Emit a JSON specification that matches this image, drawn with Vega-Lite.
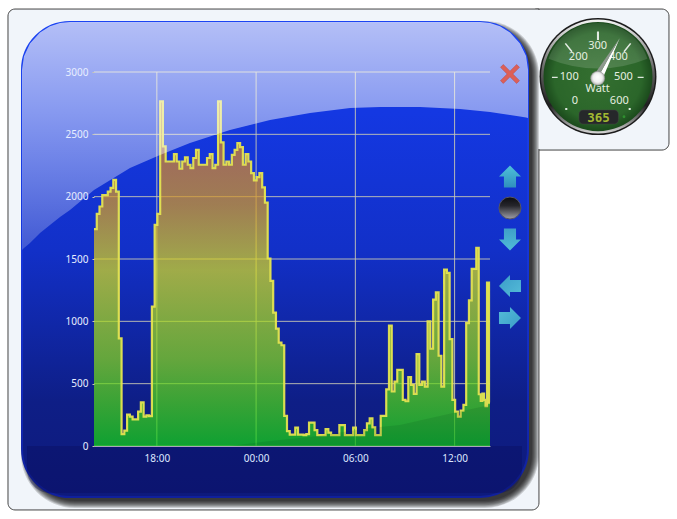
{
"$schema":"https://vega.github.io/schema/vega-lite/v6.json",
"width":396,"height":374,
"autosize":"none",
"padding":{"left":94,"top":72,"right":187,"bottom":73},
"background":"#ffffff",
"config":{"view":{"stroke":null},"font":"Noto Sans"},
"data":{"values":[{}]},
"resolve":{"axis":{"x":"independent","y":"independent"}},
"datasets":{
"power":[
{"h":14.2,"w":1740},{"h":14.367,"w":1862},{"h":14.533,"w":1921},{"h":14.7,"w":2012},{"h":14.867,"w":2012},{"h":15.033,"w":2040},
{"h":15.2,"w":2071},{"h":15.367,"w":2135},{"h":15.533,"w":2040},{"h":15.7,"w":864},{"h":15.867,"w":96},{"h":16.033,"w":123},
{"h":16.2,"w":251},{"h":16.367,"w":235},{"h":16.533,"w":214},{"h":16.7,"w":214},{"h":16.867,"w":275},{"h":17.033,"w":350},
{"h":17.2,"w":235},{"h":17.367,"w":246},{"h":17.533,"w":240},{"h":17.7,"w":1118},{"h":17.867,"w":1774},{"h":18.033,"w":1862},
{"h":18.2,"w":2764},{"h":18.367,"w":2403},{"h":18.533,"w":2282},{"h":18.7,"w":2282},{"h":18.867,"w":2282},{"h":19.033,"w":2341},
{"h":19.2,"w":2282},{"h":19.367,"w":2224},{"h":19.533,"w":2282},{"h":19.7,"w":2315},{"h":19.867,"w":2256},{"h":20.033,"w":2229},
{"h":20.2,"w":2310},{"h":20.367,"w":2376},{"h":20.533,"w":2256},{"h":20.7,"w":2256},{"h":20.867,"w":2256},{"h":21.033,"w":2310},
{"h":21.2,"w":2341},{"h":21.367,"w":2229},{"h":21.533,"w":2256},{"h":21.7,"w":2764},{"h":21.867,"w":2435},{"h":22.033,"w":2256},
{"h":22.2,"w":2282},{"h":22.367,"w":2256},{"h":22.533,"w":2336},{"h":22.7,"w":2376},{"h":22.867,"w":2430},{"h":23.033,"w":2398},
{"h":23.2,"w":2256},{"h":23.367,"w":2341},{"h":23.533,"w":2282},{"h":23.7,"w":2189},{"h":23.867,"w":2130},{"h":24.033,"w":2157},
{"h":24.2,"w":2189},{"h":24.367,"w":2074},{"h":24.533,"w":1953},{"h":24.7,"w":1504},{"h":24.867,"w":1325},{"h":25.033,"w":1070},
{"h":25.2,"w":942},{"h":25.367,"w":830},{"h":25.533,"w":808},{"h":25.7,"w":241},{"h":25.867,"w":120},{"h":26.033,"w":91},
{"h":26.2,"w":91},{"h":26.367,"w":147},{"h":26.533,"w":91},{"h":26.7,"w":91},{"h":26.867,"w":88},{"h":27.033,"w":96},
{"h":27.2,"w":187},{"h":27.367,"w":187},{"h":27.533,"w":128},{"h":27.7,"w":88},{"h":27.867,"w":88},{"h":28.033,"w":88},
{"h":28.2,"w":136},{"h":28.367,"w":107},{"h":28.533,"w":88},{"h":28.7,"w":88},{"h":28.867,"w":88},{"h":29.033,"w":168},
{"h":29.2,"w":168},{"h":29.367,"w":88},{"h":29.533,"w":88},{"h":29.7,"w":88},{"h":29.867,"w":147},{"h":30.033,"w":88},
{"h":30.2,"w":88},{"h":30.367,"w":88},{"h":30.533,"w":128},{"h":30.7,"w":182},{"h":30.867,"w":222},{"h":31.033,"w":150},
{"h":31.2,"w":88},{"h":31.367,"w":88},{"h":31.533,"w":241},{"h":31.7,"w":241},{"h":31.867,"w":455},{"h":32.033,"w":965},
{"h":32.2,"w":437},{"h":32.367,"w":517},{"h":32.533,"w":611},{"h":32.7,"w":611},{"h":32.867,"w":370},{"h":33.033,"w":359},
{"h":33.2,"w":552},{"h":33.367,"w":490},{"h":33.533,"w":418},{"h":33.7,"w":737},{"h":33.867,"w":490},{"h":34.033,"w":517},
{"h":34.2,"w":477},{"h":34.367,"w":1000},{"h":34.533,"w":780},{"h":34.7,"w":1174},{"h":34.867,"w":1233},{"h":35.033,"w":724},
{"h":35.2,"w":477},{"h":35.367,"w":1415},{"h":35.533,"w":1388},{"h":35.7,"w":858},{"h":35.867,"w":370},{"h":36.033,"w":276},
{"h":36.2,"w":236},{"h":36.367,"w":284},{"h":36.533,"w":330},{"h":36.7,"w":986},{"h":36.867,"w":1168},{"h":37.033,"w":1420},
{"h":37.31,"w":1590},{"h":37.46,"w":415},{"h":37.58,"w":361},{"h":37.68,"w":420},{"h":37.78,"w":370},{"h":37.87,"w":320},
{"h":37.96,"w":1310},{"h":38.08,"w":348},{"h":38.14,"w":348}
],
"gloss":[
{"h":9.847,"lo":1572,"hi":3016},{"h":9.968,"lo":1588,"hi":3126},{"h":10.331,"lo":1628,"hi":3228},{"h":10.936,"lo":1708,"hi":3317},
{"h":11.54,"lo":1773,"hi":3366},{"h":12.145,"lo":1837,"hi":3393},{"h":12.749,"lo":1893,"hi":3401},{"h":14.2,"lo":2053,"hi":3401},
{"h":16.376,"lo":2230,"hi":3401},{"h":18.19,"lo":2334,"hi":3401},{"h":20.0,"lo":2430,"hi":3401},{"h":22.42,"lo":2535,"hi":3401},
{"h":24.84,"lo":2615,"hi":3401},{"h":27.26,"lo":2671,"hi":3401},{"h":29.68,"lo":2711,"hi":3401},{"h":31.49,"lo":2719,"hi":3401},
{"h":33.91,"lo":2719,"hi":3401},{"h":36.33,"lo":2703,"hi":3401},{"h":37.54,"lo":2687,"hi":3401},{"h":38.14,"lo":2679,"hi":3393},
{"h":38.74,"lo":2667,"hi":3366},{"h":39.35,"lo":2655,"hi":3317},{"h":39.95,"lo":2643,"hi":3228},{"h":40.32,"lo":2635,"hi":3128},{"h":40.44,"lo":2631,"hi":3016}
],
"wave":[
{"h":22.42,"w":0},{"h":24.84,"w":40},{"h":27.26,"w":72},{"h":30.885,"w":144},{"h":32.7,"w":168},{"h":35.9,"w":265},{"h":38.14,"w":329}
]
},
"layer":[
{"mark":{"type":"rect","fill":"#f1f5fa","stroke":"#444444","strokeWidth":1,"cornerRadius":7},
 "encoding":{"x":{"datum":40.558,"type":"quantitative","axis":null},"x2":{"datum":48.96},"y":{"datum":3505,"type":"quantitative","axis":null},"y2":{"datum":2374}}},
{"mark":{"type":"rect","fill":"#f1f5fa","stroke":"#444444","strokeWidth":1,"cornerRadius":7,"cornerRadiusTopRight":0},
 "encoding":{"x":{"datum":9.0,"type":"quantitative","axis":null},"x2":{"datum":41.1},"y":{"datum":3505,"type":"quantitative","axis":null},"y2":{"datum":-513}}},
{"mark":{"type":"rect","fill":"#f1f5fa"},
 "encoding":{"x":{"datum":40.86,"type":"quantitative","axis":null},"x2":{"datum":41.46},"y":{"datum":3497,"type":"quantitative","axis":null},"y2":{"datum":2382}}},
{"mark":{"type":"rect","fill":"#000000","opacity":0.16,"cornerRadius":54},
 "encoding":{"x":{"datum":9.786,"type":"quantitative","axis":null},"x2":{"datum":41.1},"y":{"datum":3409,"type":"quantitative","axis":null},"y2":{"datum":-497}}},
{"mark":{"type":"rect","fill":"#000000","opacity":0.16,"cornerRadius":53},
 "encoding":{"x":{"datum":9.847,"type":"quantitative","axis":null},"x2":{"datum":41.04},"y":{"datum":3401,"type":"quantitative","axis":null},"y2":{"datum":-489}}},
{"mark":{"type":"rect","fill":"#000000","opacity":0.16,"cornerRadius":52},
 "encoding":{"x":{"datum":9.908,"type":"quantitative","axis":null},"x2":{"datum":40.98},"y":{"datum":3393,"type":"quantitative","axis":null},"y2":{"datum":-481}}},
{"mark":{"type":"rect","fill":"#000000","opacity":0.16,"cornerRadius":51},
 "encoding":{"x":{"datum":9.968,"type":"quantitative","axis":null},"x2":{"datum":40.92},"y":{"datum":3385,"type":"quantitative","axis":null},"y2":{"datum":-473}}},
{"mark":{"type":"rect","fill":"#000000","opacity":0.16,"cornerRadius":50},
 "encoding":{"x":{"datum":10.029,"type":"quantitative","axis":null},"x2":{"datum":40.86},"y":{"datum":3377,"type":"quantitative","axis":null},"y2":{"datum":-465}}},
{"mark":{"type":"rect","fill":"#000000","opacity":0.16,"cornerRadius":49},
 "encoding":{"x":{"datum":10.09,"type":"quantitative","axis":null},"x2":{"datum":40.8},"y":{"datum":3369,"type":"quantitative","axis":null},"y2":{"datum":-457}}},
{"mark":{"type":"rect","fill":"#000000","opacity":0.16,"cornerRadius":48},
 "encoding":{"x":{"datum":10.15,"type":"quantitative","axis":null},"x2":{"datum":40.74},"y":{"datum":3361,"type":"quantitative","axis":null},"y2":{"datum":-449}}},
{"mark":{"type":"rect","fill":"#000000","opacity":0.16,"cornerRadius":47},
 "encoding":{"x":{"datum":10.21,"type":"quantitative","axis":null},"x2":{"datum":40.68},"y":{"datum":3353,"type":"quantitative","axis":null},"y2":{"datum":-441}}},
{"mark":{"type":"rect","cornerRadius":48,"strokeWidth":2,
  "fill":{"gradient":"linear","x1":0,"y1":0,"x2":0,"y2":1,"stops":[{"offset":0,"color":"#1538e6"},{"offset":0.19,"color":"#1438e2"},{"offset":0.48,"color":"#1230c8"},{"offset":0.8,"color":"#0e1e86"},{"offset":1,"color":"#0e1a7c"}]},
  "stroke":{"gradient":"linear","x1":0,"y1":0,"x2":0,"y2":1,"stops":[{"offset":0,"color":"#1c44f2"},{"offset":0.5,"color":"#1434d8"},{"offset":1,"color":"#10209c"}]}},
 "encoding":{"x":{"datum":9.847,"type":"quantitative","axis":null},"x2":{"datum":40.437},"y":{"datum":3401,"type":"quantitative","axis":null},"y2":{"datum":-409}}},
{"mark":{"type":"rect","fill":"#080c58","opacity":0.35,"cornerRadiusBottomLeft":44,"cornerRadiusBottomRight":44},
 "encoding":{"x":{"datum":10.15,"type":"quantitative","axis":null},"x2":{"datum":40.07},"y":{"datum":0,"type":"quantitative","axis":null},"y2":{"datum":-377}}},
{"data":{"values":[{"v":0},{"v":500},{"v":1000},{"v":1500},{"v":2000},{"v":2500},{"v":3000}]},
 "mark":{"type":"rule","stroke":"#c8c8b4","strokeWidth":1,"opacity":0.9},
 "encoding":{"y":{"field":"v","type":"quantitative","axis":null}}},
{"data":{"values":[{"v":18},{"v":24},{"v":30},{"v":36}]},
 "mark":{"type":"rule","stroke":"#c8c8b4","strokeWidth":1,"opacity":0.9},
 "encoding":{"x":{"field":"v","type":"quantitative","axis":null}}},
{"data":{"name":"power"},
 "mark":{"type":"area","interpolate":"step-after","opacity":0.72,
  "fill":{"gradient":"linear","x1":0,"y1":0,"x2":0,"y2":1,"stops":[{"offset":0,"color":"#d67a28"},{"offset":0.2,"color":"#d68928"},{"offset":0.3,"color":"#d69a22"},{"offset":0.49,"color":"#d7dc1b"},{"offset":0.75,"color":"#85d919"},{"offset":1,"color":"#0fd413"}]}},
 "encoding":{
  "x":{"field":"h","type":"quantitative","scale":{"domain":[14.2,38.14],"nice":false,"zero":false},
   "axis":{"title":null,"values":[18,24,30,36],"labelExpr":"format(datum.value % 24,'02d')+':00'","grid":false,"ticks":false,"domain":true,"domainColor":"#a8a8b8","labelColor":"#dfe8ff","labelFontSize":10,"labelFont":"Noto Sans","labelPadding":7,"zindex":1}},
  "y":{"field":"w","type":"quantitative","scale":{"domain":[0,3000],"nice":false,"zero":false},
   "axis":{"title":null,"values":[0,500,1000,1500,2000,2500,3000],"format":"d","grid":false,"domain":false,"ticks":true,"tickSize":2,"tickColor":"#c8c8b4","labelColor":"#e8eeff","labelFontSize":10,"labelFont":"Noto Sans","labelPadding":4,"zindex":1}}}},
{"data":{"name":"power"},
 "mark":{"type":"line","interpolate":"step-after","stroke":"#e4e450","strokeWidth":2.2,"opacity":0.95},
 "encoding":{"x":{"field":"h","type":"quantitative","axis":null},"y":{"field":"w","type":"quantitative","axis":null}}},
{"data":{"name":"wave"},
 "mark":{"type":"area","fill":"#003a18","opacity":0.12},
 "encoding":{"x":{"field":"h","type":"quantitative","axis":null},"y":{"field":"w","type":"quantitative","axis":null},"y2":{"datum":0}}},
{"data":{"name":"gloss"},
 "mark":{"type":"area","fill":{"gradient":"linear","x1":0,"y1":0,"x2":0,"y2":1,"stops":[{"offset":0,"color":"rgba(255,255,255,0.68)"},{"offset":1,"color":"rgba(255,255,255,0.2)"}]}},
 "encoding":{"x":{"field":"h","type":"quantitative","axis":null},"y":{"field":"hi","type":"quantitative","axis":null},"y2":{"field":"lo"}}},
{"mark":{"type":"point","filled":true,"opacity":1,"size":361,"fill":"#dc5f58","stroke":"#b84a48","strokeWidth":0.5,"shape":"M-1,-.7L-.7,-1L0,-.3L.7,-1L1,-.7L.3,0L1,.7L.7,1L0,.3L-.7,1L-1,.7L-.3,0Z"},
 "encoding":{"x":{"datum":39.348,"type":"quantitative","axis":null},"y":{"datum":2984,"type":"quantitative","axis":null}}},
{"mark":{"type":"point","filled":true,"opacity":1,"size":484,"fill":{"gradient":"linear","x1":0,"y1":0,"x2":0,"y2":1,"stops":[{"offset":0,"color":"#4fc2da"},{"offset":1,"color":"#2f8fbe"}]},"shape":"M0,-1L1,0L.55,0L.55,1L-.55,1L-.55,0L-1,0Z"},
 "encoding":{"x":{"datum":39.348,"type":"quantitative","axis":null},"y":{"datum":2162,"type":"quantitative","axis":null}}},
{"mark":{"type":"point","filled":true,"opacity":1,"size":484,"shape":"circle","stroke":"#555566","strokeWidth":1,"fill":{"gradient":"linear","x1":0,"y1":0,"x2":0,"y2":1,"stops":[{"offset":0,"color":"#0c0c10"},{"offset":0.4,"color":"#26262c"},{"offset":1,"color":"#a0a0a8"}]}},
 "encoding":{"x":{"datum":39.348,"type":"quantitative","axis":null},"y":{"datum":1909,"type":"quantitative","axis":null}}},
{"mark":{"type":"point","filled":true,"opacity":1,"size":484,"fill":{"gradient":"linear","x1":0,"y1":0,"x2":0,"y2":1,"stops":[{"offset":0,"color":"#3f9fc8"},{"offset":1,"color":"#4fbcd8"}]},"shape":"M0,1L1,0L.55,0L.55,-1L-.55,-1L-.55,0L-1,0Z"},
 "encoding":{"x":{"datum":39.348,"type":"quantitative","axis":null},"y":{"datum":1656,"type":"quantitative","axis":null}}},
{"mark":{"type":"point","filled":true,"opacity":1,"size":484,"fill":{"gradient":"linear","x1":0,"y1":0,"x2":1,"y2":1,"stops":[{"offset":0,"color":"#3a9cc8"},{"offset":1,"color":"#55bcd8"}]},"shape":"M-1,0L0,-1L0,-.55L1,-.55L1,.55L0,.55L0,1Z"},
 "encoding":{"x":{"datum":39.348,"type":"quantitative","axis":null},"y":{"datum":1283,"type":"quantitative","axis":null}}},
{"mark":{"type":"point","filled":true,"opacity":1,"size":484,"fill":{"gradient":"linear","x1":0,"y1":0,"x2":1,"y2":1,"stops":[{"offset":0,"color":"#55bcd8"},{"offset":1,"color":"#3a9cc8"}]},"shape":"M1,0L0,-1L0,-.55L-1,-.55L-1,.55L0,.55L0,1Z"},
 "encoding":{"x":{"datum":39.348,"type":"quantitative","axis":null},"y":{"datum":1027,"type":"quantitative","axis":null}}},
{"mark":{"type":"point","filled":true,"opacity":1,"size":13689,"shape":"circle","fill":"#1c1c1c"},
 "encoding":{"x":{"datum":44.668,"type":"quantitative","axis":null},"y":{"datum":2963,"type":"quantitative","axis":null}}},
{"mark":{"type":"point","filled":true,"opacity":1,"size":12996,"shape":"circle","fill":{"gradient":"linear","x1":0,"y1":0,"x2":0,"y2":1,"stops":[{"offset":0,"color":"#f4f4f4"},{"offset":0.45,"color":"#606060"},{"offset":0.75,"color":"#202020"},{"offset":1,"color":"#d8d8d8"}]}},
 "encoding":{"x":{"datum":44.668,"type":"quantitative","axis":null},"y":{"datum":2963,"type":"quantitative","axis":null}}},
{"mark":{"type":"point","filled":true,"opacity":1,"size":11881,"shape":"circle","fill":{"gradient":"radial","x1":0.5,"y1":0.5,"r1":0,"x2":0.5,"y2":0.5,"r2":0.5,"stops":[{"offset":0,"color":"#346f30"},{"offset":0.8,"color":"#2b662a"},{"offset":1,"color":"#1b4a1c"}]}},
 "encoding":{"x":{"datum":44.668,"type":"quantitative","axis":null},"y":{"datum":2963,"type":"quantitative","axis":null}}},
{"mark":{"type":"point","filled":true,"opacity":1,"size":10816,"fill":{"gradient":"linear","x1":0,"y1":0,"x2":0,"y2":1,"stops":[{"offset":0,"color":"rgba(255,255,255,0.08)"},{"offset":1,"color":"rgba(255,255,255,0.15)"}]},"shape":"M-.95,-.36A1,1 0 0 1 .95,-.36Q0,.02 -.95,-.36Z"},
 "encoding":{"x":{"datum":44.668,"type":"quantitative","axis":null},"y":{"datum":2957,"type":"quantitative","axis":null}}},
{"mark":{"type":"point","filled":true,"opacity":0.85,"size":10816,"fill":"#ffffff","shape":"M-.02,-.88H.02V-.72H-.02ZM-.885,-.012H-.775V.012H-.885ZM.763,-.012H.878V.012H.763ZM-.64,-.645L-.616,-.663L-.488,-.503L-.512,-.485ZM.64,-.645L.616,-.663L.488,-.503L.512,-.485ZM-.63,.59H-.59V.63H-.63ZM.59,.59H.63V.63H.59Z"},
 "encoding":{"x":{"datum":44.668,"type":"quantitative","axis":null},"y":{"datum":2957,"type":"quantitative","axis":null}}},
{"mark":{"type":"text","text":"300","fontSize":11,"fill":"#e6efe0","font":"Noto Sans"},"encoding":{"x":{"datum":44.65,"type":"quantitative","axis":null},"y":{"datum":3208,"type":"quantitative","axis":null}}},
{"mark":{"type":"text","text":"200","fontSize":11,"fill":"#e6efe0","font":"Noto Sans"},"encoding":{"x":{"datum":43.477,"type":"quantitative","axis":null},"y":{"datum":3118,"type":"quantitative","axis":null}}},
{"mark":{"type":"text","text":"400","fontSize":11,"fill":"#e6efe0","font":"Noto Sans"},"encoding":{"x":{"datum":45.907,"type":"quantitative","axis":null},"y":{"datum":3118,"type":"quantitative","axis":null}}},
{"mark":{"type":"text","text":"100","fontSize":11,"fill":"#e6efe0","font":"Noto Sans"},"encoding":{"x":{"datum":42.93,"type":"quantitative","axis":null},"y":{"datum":2962,"type":"quantitative","axis":null}}},
{"mark":{"type":"text","text":"500","fontSize":11,"fill":"#e6efe0","font":"Noto Sans"},"encoding":{"x":{"datum":46.2,"type":"quantitative","axis":null},"y":{"datum":2962,"type":"quantitative","axis":null}}},
{"mark":{"type":"text","text":"0","fontSize":11,"fill":"#e6efe0","font":"Noto Sans"},"encoding":{"x":{"datum":43.278,"type":"quantitative","axis":null},"y":{"datum":2765,"type":"quantitative","axis":null}}},
{"mark":{"type":"text","text":"600","fontSize":11,"fill":"#e6efe0","font":"Noto Sans"},"encoding":{"x":{"datum":45.956,"type":"quantitative","axis":null},"y":{"datum":2765,"type":"quantitative","axis":null}}},
{"mark":{"type":"text","text":"Watt","fontSize":11,"fill":"#e6efe0","font":"Noto Sans"},"encoding":{"x":{"datum":44.65,"type":"quantitative","axis":null},"y":{"datum":2861,"type":"quantitative","axis":null}}},
{"mark":{"type":"point","filled":true,"opacity":1,"size":10816,"fill":"#ffffff","shape":"M.417,-.75L.079,.044L0,0Z"},
 "encoding":{"x":{"datum":44.668,"type":"quantitative","axis":null},"y":{"datum":2957,"type":"quantitative","axis":null}}},
{"mark":{"type":"point","filled":true,"opacity":1,"size":10816,"fill":"#8f998f","shape":"M.417,-.75L-.079,-.044L0,0Z"},
 "encoding":{"x":{"datum":44.668,"type":"quantitative","axis":null},"y":{"datum":2957,"type":"quantitative","axis":null}}},
{"mark":{"type":"point","filled":true,"opacity":1,"size":196,"shape":"circle","stroke":"#8a8a8a","strokeWidth":0.5,"fill":{"gradient":"radial","x1":0.5,"y1":0.4,"r1":0,"x2":0.5,"y2":0.5,"r2":0.55,"stops":[{"offset":0,"color":"#ffffff"},{"offset":0.6,"color":"#f0f0f0"},{"offset":1,"color":"#a0a0a0"}]}},
 "encoding":{"x":{"datum":44.65,"type":"quantitative","axis":null},"y":{"datum":2950,"type":"quantitative","axis":null}}},
{"mark":{"type":"rect","fill":"#26282a","stroke":"#444444","strokeWidth":0.5,"cornerRadius":4},
 "encoding":{"x":{"datum":43.52,"type":"quantitative","axis":null},"x2":{"datum":45.9},"y":{"datum":2695,"type":"quantitative","axis":null},"y2":{"datum":2583}}},
{"mark":{"type":"text","text":"365","fontSize":12.5,"fontWeight":"bold","fill":"#a2b832","font":"DejaVu Sans Mono"},"encoding":{"x":{"datum":44.7,"type":"quantitative","axis":null},"y":{"datum":2635,"type":"quantitative","axis":null}}},
{"mark":{"type":"point","filled":true,"opacity":1,"size":8,"shape":"circle","fill":"#2f8f2f"},"encoding":{"x":{"datum":46.24,"type":"quantitative","axis":null},"y":{"datum":2641,"type":"quantitative","axis":null}}}
]
}
